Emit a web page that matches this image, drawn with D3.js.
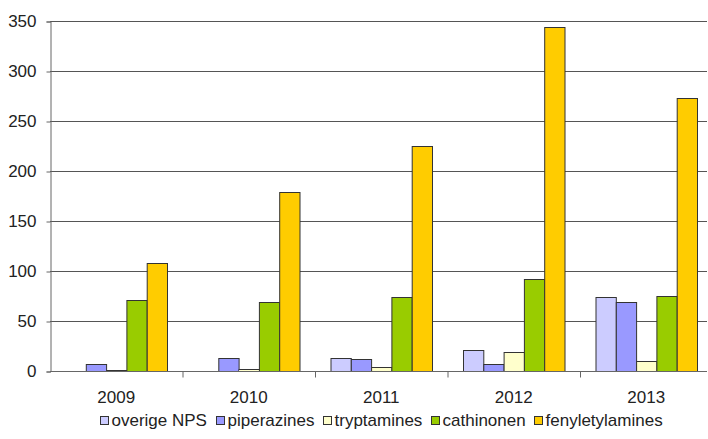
<!DOCTYPE html>
<html><head><meta charset="utf-8">
<script src="https://cdn.jsdelivr.net/npm/d3@7"></script>
<style>body{margin:0;background:#fff}svg{display:block}text{font-family:"Liberation Sans",Arial,sans-serif;fill:#222}</style>
</head><body>
<svg id="c" width="708" height="439"></svg>
<script>
const years = ["2009","2010","2011","2012","2013"];
const seriesNames = ["overige NPS","piperazines","tryptamines","cathinonen","fenyletylamines"];
const overige = [0, 0, 13, 21, 74];
const piperazines = [7, 13, 12, 7, 69];
const tryptamines = [1, 2, 4, 19, 10];
const cathinonen = [71, 69, 74, 92, 75];
const fenyletylamines = [108, 179, 225, 344, 273];
const yTicks = [0, 50, 100, 150, 200, 250, 300, 350];
const colors = ["#CCCCFF","#9999FF","#FFFFCC","#99CC00","#FFCC00"];

(function(){
const seriesValues = [overige, piperazines, tryptamines, cathinonen, fenyletylamines];
const svg = d3.select("#c");
const mLeft = 50, mTop = 21, mBottom = 371, mRight = 712.5, gridRight = 707;

const x0 = d3.scaleBand().domain(years).range([mLeft, mRight]).padding(0);
const x1 = d3.scaleBand().domain(seriesNames).range([15.5, x0.bandwidth() - 15.5]).padding(0);
const y = d3.scaleLinear().domain([0, 350]).range([mBottom, mTop]);

// gridlines
svg.append("g").selectAll("line").data(yTicks.filter(d => d > 0)).join("line")
  .attr("x1", mLeft).attr("x2", gridRight)
  .attr("y1", d => y(d) + 0.5).attr("y2", d => y(d) + 0.5)
  .attr("stroke", "#555").attr("stroke-width", 1);

// bars
const groups = svg.append("g").selectAll("g").data(years).join("g")
  .attr("transform", d => `translate(${x0(d)},0)`);
groups.selectAll("rect").data((d, i) => seriesNames.map((s, j) => ({s, j, v: seriesValues[j][i]})))
  .join("rect")
  .attr("x", d => x1(d.s) + 0.5)
  .attr("width", x1.bandwidth())
  .attr("y", d => y(d.v) + 0.5)
  .attr("height", d => Math.max(0, mBottom - y(d.v)))
  .attr("fill", d => colors[d.j])
  .attr("stroke", "#333").attr("stroke-width", 1);

// y axis
const yAxis = d3.axisLeft(y).tickValues(yTicks).tickSize(4).tickPadding(10);
const gy = svg.append("g").attr("transform", `translate(${mLeft + 0.5},0.5)`).call(yAxis);
gy.select(".domain").attr("stroke", "#666");
gy.selectAll(".tick line").attr("stroke", "#666");
gy.selectAll("text").style("font-size", "17px").attr("fill", "#222");

// x axis
const gx = svg.append("g").attr("transform", `translate(0,${mBottom + 0.5})`);
gx.append("line").attr("x1", mLeft).attr("x2", gridRight).attr("stroke", "#666");
gx.selectAll("line.t").data(years.slice(1)).join("line").attr("class","t")
  .attr("x1", d => x0(d) + 0.5).attr("x2", d => x0(d) + 0.5).attr("y1", 0).attr("y2", 6).attr("stroke", "#666");
gx.selectAll("text").data(years).join("text")
  .attr("x", d => x0(d) + x0.bandwidth() / 2).attr("y", 31)
  .attr("text-anchor", "middle").style("font-size", "17px").text(d => d);

// legend
const leg = svg.append("g");
const items = leg.selectAll("g").data(seriesNames).join("g");
items.append("rect").attr("width", 8).attr("height", 8).attr("y", 416.5)
  .attr("fill", (d, i) => colors[i]).attr("stroke", "#333");
items.append("text").attr("x", 11).attr("y", 426).style("font-size", "17px").text(d => d);
let cx = 0; const pos = [];
items.each(function(d) {
  const w = d3.select(this).select("text").node().getComputedTextLength();
  pos.push(cx); cx += 11 + w + 9;
});
const total = cx - 9;
const start = (97 + 665.5) / 2 - total / 2;
items.attr("transform", (d, i) => `translate(${Math.round(start + pos[i]) + 0.5},0)`);
})();
</script>
</body></html>
